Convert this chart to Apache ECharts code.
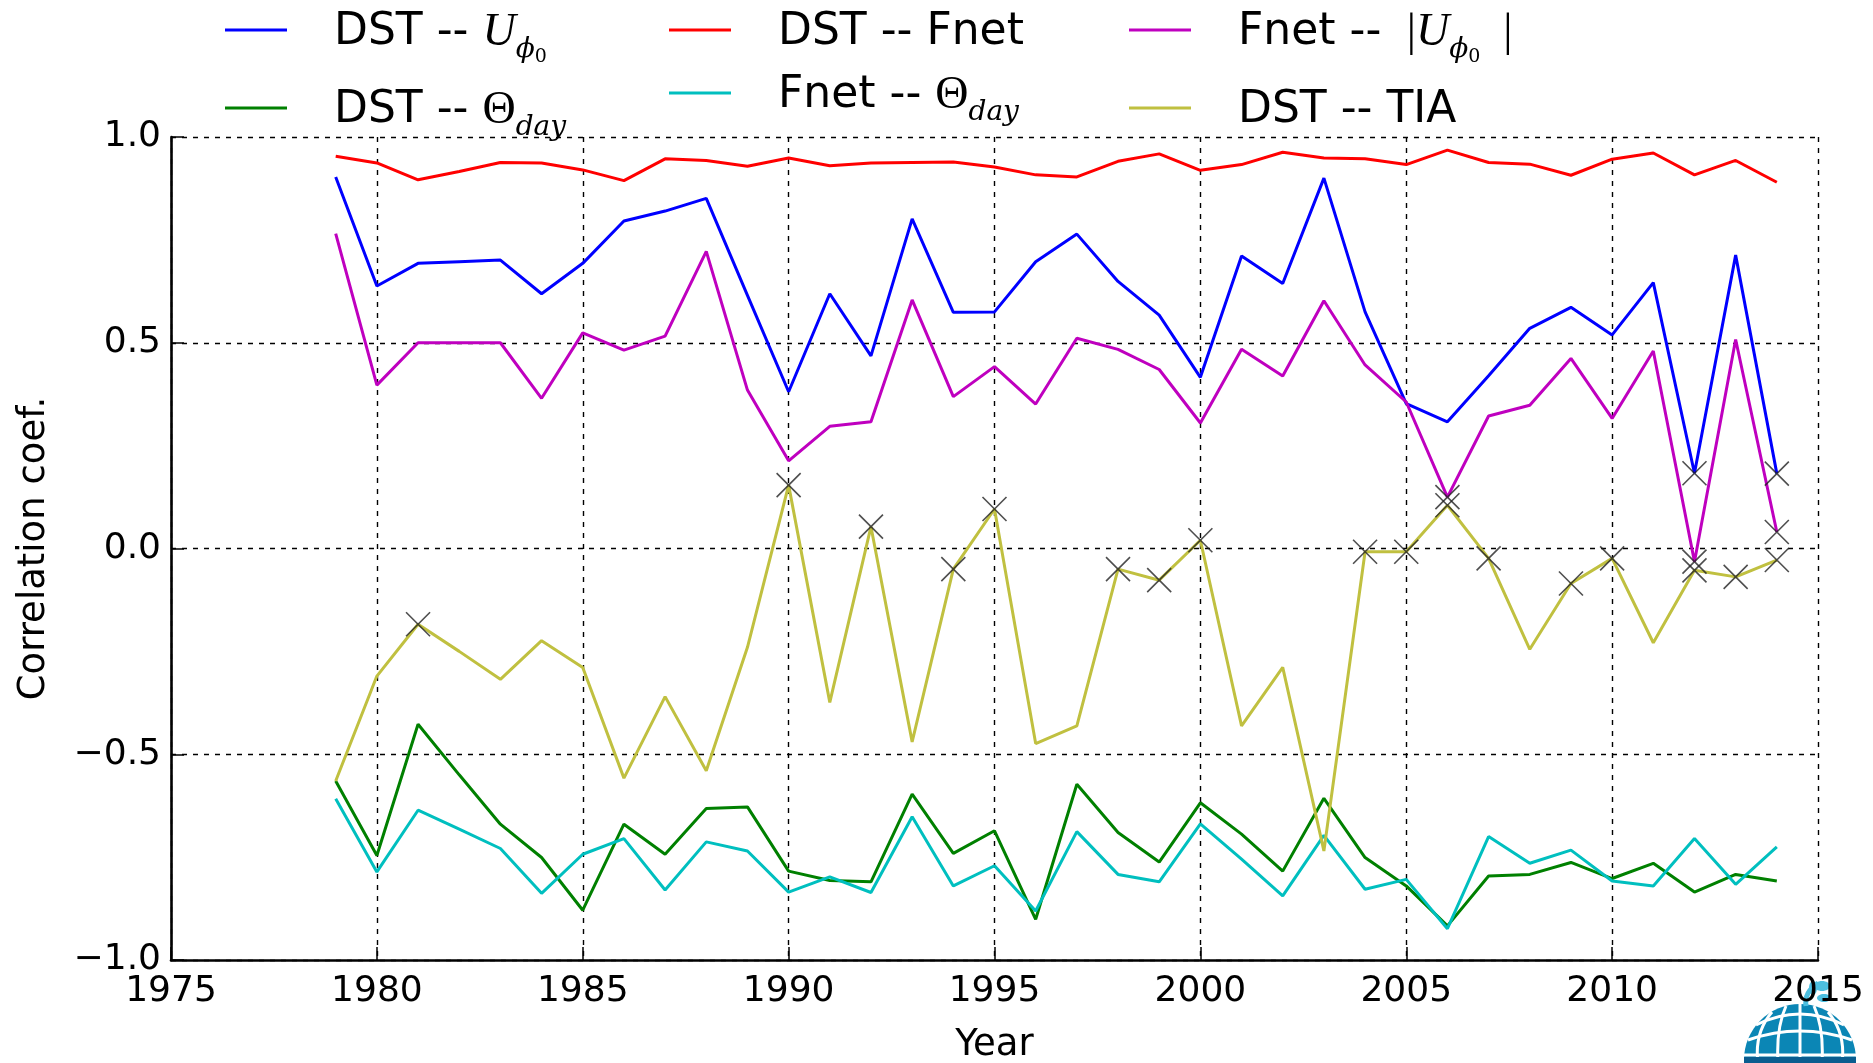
<!DOCTYPE html>
<html>
<head>
<meta charset="utf-8">
<script src="https://cdn.jsdelivr.net/npm/echarts@6/dist/echarts.min.js"></script>
<style>
  html, body { margin: 0; padding: 0; background: #fff; }
  #chart { width: 1873px; height: 1063px; }
</style>
</head>
<body>
<div id="chart"></div>
<script>
// years on the x axis
const years = [1979, 1980, 1981, 1982, 1983, 1984, 1985, 1986, 1987, 1988,
  1989, 1990, 1991, 1992, 1993, 1994, 1995, 1996, 1997, 1998,
  1999, 2000, 2001, 2002, 2003, 2004, 2005, 2006, 2007, 2008,
  2009, 2010, 2011, 2012, 2013, 2014];

const dstUphi = [0.903, 0.638, 0.693, 0.697, 0.701, 0.619, 0.693, 0.796, 0.820, 0.851,
  0.615, 0.381, 0.619, 0.468, 0.801, 0.574, 0.575, 0.697, 0.764, 0.649,
  0.567, 0.416, 0.711, 0.644, 0.900, 0.575, 0.352, 0.308, 0.420, 0.535,
  0.586, 0.519, 0.646, 0.183, 0.713, 0.182];

const dstTheta = [-0.565, -0.746, -0.427, -0.550, -0.670, -0.751, -0.879, -0.670, -0.743, -0.632,
  -0.628, -0.784, -0.807, -0.810, -0.597, -0.741, -0.686, -0.901, -0.573, -0.690,
  -0.762, -0.618, -0.694, -0.784, -0.607, -0.751, -0.820, -0.917, -0.796, -0.792,
  -0.763, -0.802, -0.765, -0.835, -0.792, -0.808];

const dstFnet = [0.953, 0.937, 0.896, 0.916, 0.938, 0.937, 0.920, 0.894, 0.947, 0.943,
  0.929, 0.949, 0.930, 0.937, 0.938, 0.939, 0.927, 0.908, 0.903, 0.941,
  0.959, 0.919, 0.933, 0.963, 0.949, 0.947, 0.933, 0.968, 0.938, 0.934,
  0.907, 0.946, 0.961, 0.908, 0.943, 0.890];

const fnetTheta = [-0.608, -0.786, -0.636, -0.682, -0.729, -0.838, -0.743, -0.705, -0.830, -0.713,
  -0.735, -0.835, -0.798, -0.836, -0.652, -0.820, -0.771, -0.881, -0.688, -0.792,
  -0.810, -0.669, -0.755, -0.844, -0.697, -0.828, -0.804, -0.924, -0.700, -0.765,
  -0.733, -0.808, -0.820, -0.705, -0.816, -0.725];

const fnetUphi = [0.765, 0.397, 0.500, 0.500, 0.500, 0.365, 0.524, 0.482, 0.516, 0.722,
  0.385, 0.213, 0.297, 0.308, 0.604, 0.369, 0.442, 0.351, 0.511, 0.484,
  0.435, 0.305, 0.484, 0.419, 0.602, 0.446, 0.356, 0.125, 0.322, 0.348,
  0.462, 0.316, 0.480, -0.032, 0.508, 0.040];

const dstTia = [-0.565, -0.310, -0.184, -0.250, -0.318, -0.224, -0.289, -0.558, -0.360, -0.540,
  -0.240, 0.154, -0.374, 0.053, -0.470, -0.050, 0.096, -0.474, -0.431, -0.050,
  -0.077, 0.020, -0.431, -0.289, -0.735, -0.008, -0.008, 0.105, -0.024, -0.245,
  -0.085, -0.024, -0.229, -0.053, -0.069, -0.028];

// years flagged with a cross
const markedUphi = [2012, 2014];
const markedFnetUphi = [2006, 2012, 2014];
const markedTia = [1981, 1990, 1992, 1994, 1995, 1998, 1999, 2000, 2004, 2005,
  2006, 2007, 2009, 2010, 2012, 2013, 2014];

const yTicks = [-1.0, -0.5, 0.0, 0.5, 1.0];
const xTicks = [1975, 1980, 1985, 1990, 1995, 2000, 2005, 2010, 2015];

const seriesList = [
  {name: 'DST -- Uphi', values: dstUphi, color: '#0000ff',
    label: 'DST -- {it|U}{sub|\u03d5}{ss|0}'},
  {name: 'DST -- Theta', values: dstTheta, color: '#008000',
    label: 'DST -- {rm|\u0398}{sub|day}'},
  {name: 'DST -- Fnet', values: dstFnet, color: '#ff0000',
    label: 'DST -- Fnet'},
  {name: 'Fnet -- Theta', values: fnetTheta, color: '#00bfbf',
    label: 'Fnet -- {rm|\u0398}{sub|day}'},
  {name: 'Fnet -- |Uphi|', values: fnetUphi, color: '#bf00bf',
    label: 'Fnet -- {rm| |}{it|U}{sub|\u03d5}{ss|0}{rm|  |}'},
  {name: 'DST -- TIA', values: dstTia, color: '#c0c040',
    label: 'DST -- TIA'}
];

// legend placement: [left, icon centre y]
const legendPos = [[225, 30], [225, 108], [669, 30], [669, 93], [1129, 30], [1129, 108]];

function pairs (values){
  return years.map((yr, i) => [yr, values[i]]);
}

function marks (values, marked){
  return marked.map(yr => [yr, values[years.indexOf(yr)]]);
}

const richStyles = {
  it: {fontFamily: 'Liberation Serif', fontStyle: 'italic', fontSize: 46, color: '#000'},
  rm: {fontFamily: 'Liberation Serif', fontSize: 46, color: '#000'},
  sub: {fontFamily: 'DejaVu Serif', fontStyle: 'italic', fontSize: 28, lineHeight: 20,
    padding: [34, 0, 0, 0], color: '#000'},
  ss: {fontFamily: 'DejaVu Serif', fontSize: 19, lineHeight: 12,
    padding: [48, 0, 0, 0], color: '#000'}
};

const chart = echarts.init(document.getElementById('chart'));

const lineSeries = seriesList.map(s => ({
  name: s.name,
  type: 'line',
  data: pairs(s.values),
  showSymbol: false,
  symbol: 'none',
  lineStyle: {color: s.color, width: 3},
  itemStyle: {color: s.color},
  z: 2
}));

const crossStyle = {
  type: 'scatter',
  symbol: 'path://M0,0L10,10M10,0L0,10',
  symbolSize: 24,
  itemStyle: {color: 'none', borderColor: '#222', borderWidth: 1.6},
  z: 5,
  silent: true
};

const markSeries = [
  Object.assign({name: 'mark1', data: marks(dstUphi, markedUphi)}, crossStyle),
  Object.assign({name: 'mark2', data: marks(fnetUphi, markedFnetUphi)}, crossStyle),
  Object.assign({name: 'mark3', data: marks(dstTia, markedTia)}, crossStyle)
];

const legends = seriesList.map((s, i) => ({
  data: [s.name],
  left: legendPos[i][0],
  top: legendPos[i][1] - 33,
  padding: 0,
  icon: 'rect',
  itemWidth: 62,
  itemHeight: 3,
  selectedMode: false,
  formatter: () => s.label,
  textStyle: {
    fontFamily: 'DejaVu Sans',
    fontSize: 44,
    lineHeight: 60,
    color: '#000',
    padding: [6, 0, 0, 42],
    rich: richStyles
  }
}));

const gridLine = {show: true, lineStyle: {color: '#000', type: [5, 6], width: 1.4}};

// small publisher globe in the lower right corner
const white = {stroke: '#fff', lineWidth: 3, fill: null};
const logo = {
  type: 'group',
  silent: true,
  z: 10,
  children: [
    {type: 'circle', shape: {cx: 1800, cy: 1060, r: 56}, style: {fill: '#0b86b5'}},
    {type: 'bezierCurve', shape: {x1: 1756, y1: 1025, x2: 1844, y2: 1025, cpx1: 1800, cpy1: 1003}, style: white},
    {type: 'bezierCurve', shape: {x1: 1748, y1: 1040, x2: 1852, y2: 1040, cpx1: 1800, cpy1: 1022}, style: white},
    {type: 'line', shape: {x1: 1744, y1: 1055, x2: 1856, y2: 1055}, style: white},
    {type: 'line', shape: {x1: 1800, y1: 1004, x2: 1800, y2: 1063}, style: white},
    {type: 'bezierCurve', shape: {x1: 1786, y1: 1006, x2: 1778, y2: 1063, cpx1: 1776, cpy1: 1028}, style: white},
    {type: 'bezierCurve', shape: {x1: 1814, y1: 1006, x2: 1822, y2: 1063, cpx1: 1824, cpy1: 1028}, style: white},
    {type: 'bezierCurve', shape: {x1: 1772, y1: 1012, x2: 1758, y2: 1063, cpx1: 1754, cpy1: 1033}, style: white},
    {type: 'bezierCurve', shape: {x1: 1828, y1: 1012, x2: 1842, y2: 1063, cpx1: 1846, cpy1: 1033}, style: white},
    {type: 'rect', shape: {x: 1744, y: 1057, width: 112, height: 6}, style: {fill: '#0a5d8f'}},
    {type: 'bezierCurve', shape: {x1: 1806, y1: 1006, x2: 1818, y2: 983, cpx1: 1804, cpy1: 992},
      style: {stroke: '#4dbfe0', lineWidth: 5, fill: null}},
    {type: 'ellipse', shape: {cx: 1822, cy: 986, rx: 8, ry: 5}, style: {fill: '#4dbfe0'}},
    {type: 'ellipse', shape: {cx: 1813, cy: 988, rx: 4, ry: 7}, style: {fill: '#4dbfe0'}},
    {type: 'ellipse', shape: {cx: 1824, cy: 998, rx: 7, ry: 4}, style: {fill: '#4dbfe0'}}
  ]
};

chart.setOption({
  animation: false,
  backgroundColor: '#fff',
  textStyle: {fontFamily: 'DejaVu Sans'},
  legend: legends,
  grid: {left: 171, right: 55, top: 137, bottom: 103, containLabel: false, outerBoundsMode: 'none'},
  xAxis: {
    type: 'value',
    min: xTicks[0],
    max: xTicks[xTicks.length - 1],
    interval: 5,
    name: 'Year',
    nameLocation: 'middle',
    nameGap: 67,
    nameTextStyle: {fontSize: 37, color: '#000', fontFamily: 'DejaVu Sans'},
    axisLine: {onZero: false, lineStyle: {color: '#000', width: 2.6}},
    axisTick: {inside: true, length: 13, lineStyle: {color: '#000', width: 1.5}},
    axisLabel: {fontSize: 36, color: '#000', margin: 14, formatter: v => String(v)},
    splitLine: gridLine
  },
  yAxis: {
    type: 'value',
    min: yTicks[0],
    max: yTicks[yTicks.length - 1],
    interval: 0.5,
    name: 'Correlation coef.',
    nameLocation: 'middle',
    nameGap: 118,
    nameTextStyle: {fontSize: 37, color: '#000', fontFamily: 'DejaVu Sans'},
    axisLine: {show: true, onZero: false, lineStyle: {color: '#000', width: 2.6}},
    axisTick: {show: true, inside: true, length: 13, lineStyle: {color: '#000', width: 1.5}},
    axisLabel: {fontSize: 36, color: '#000', margin: 10,
      formatter: v => v.toFixed(1).replace('-', '\u2212')},
    splitLine: gridLine
  },
  graphic: [logo],
  series: lineSeries.concat(markSeries)
});
</script>
</body>
</html>
